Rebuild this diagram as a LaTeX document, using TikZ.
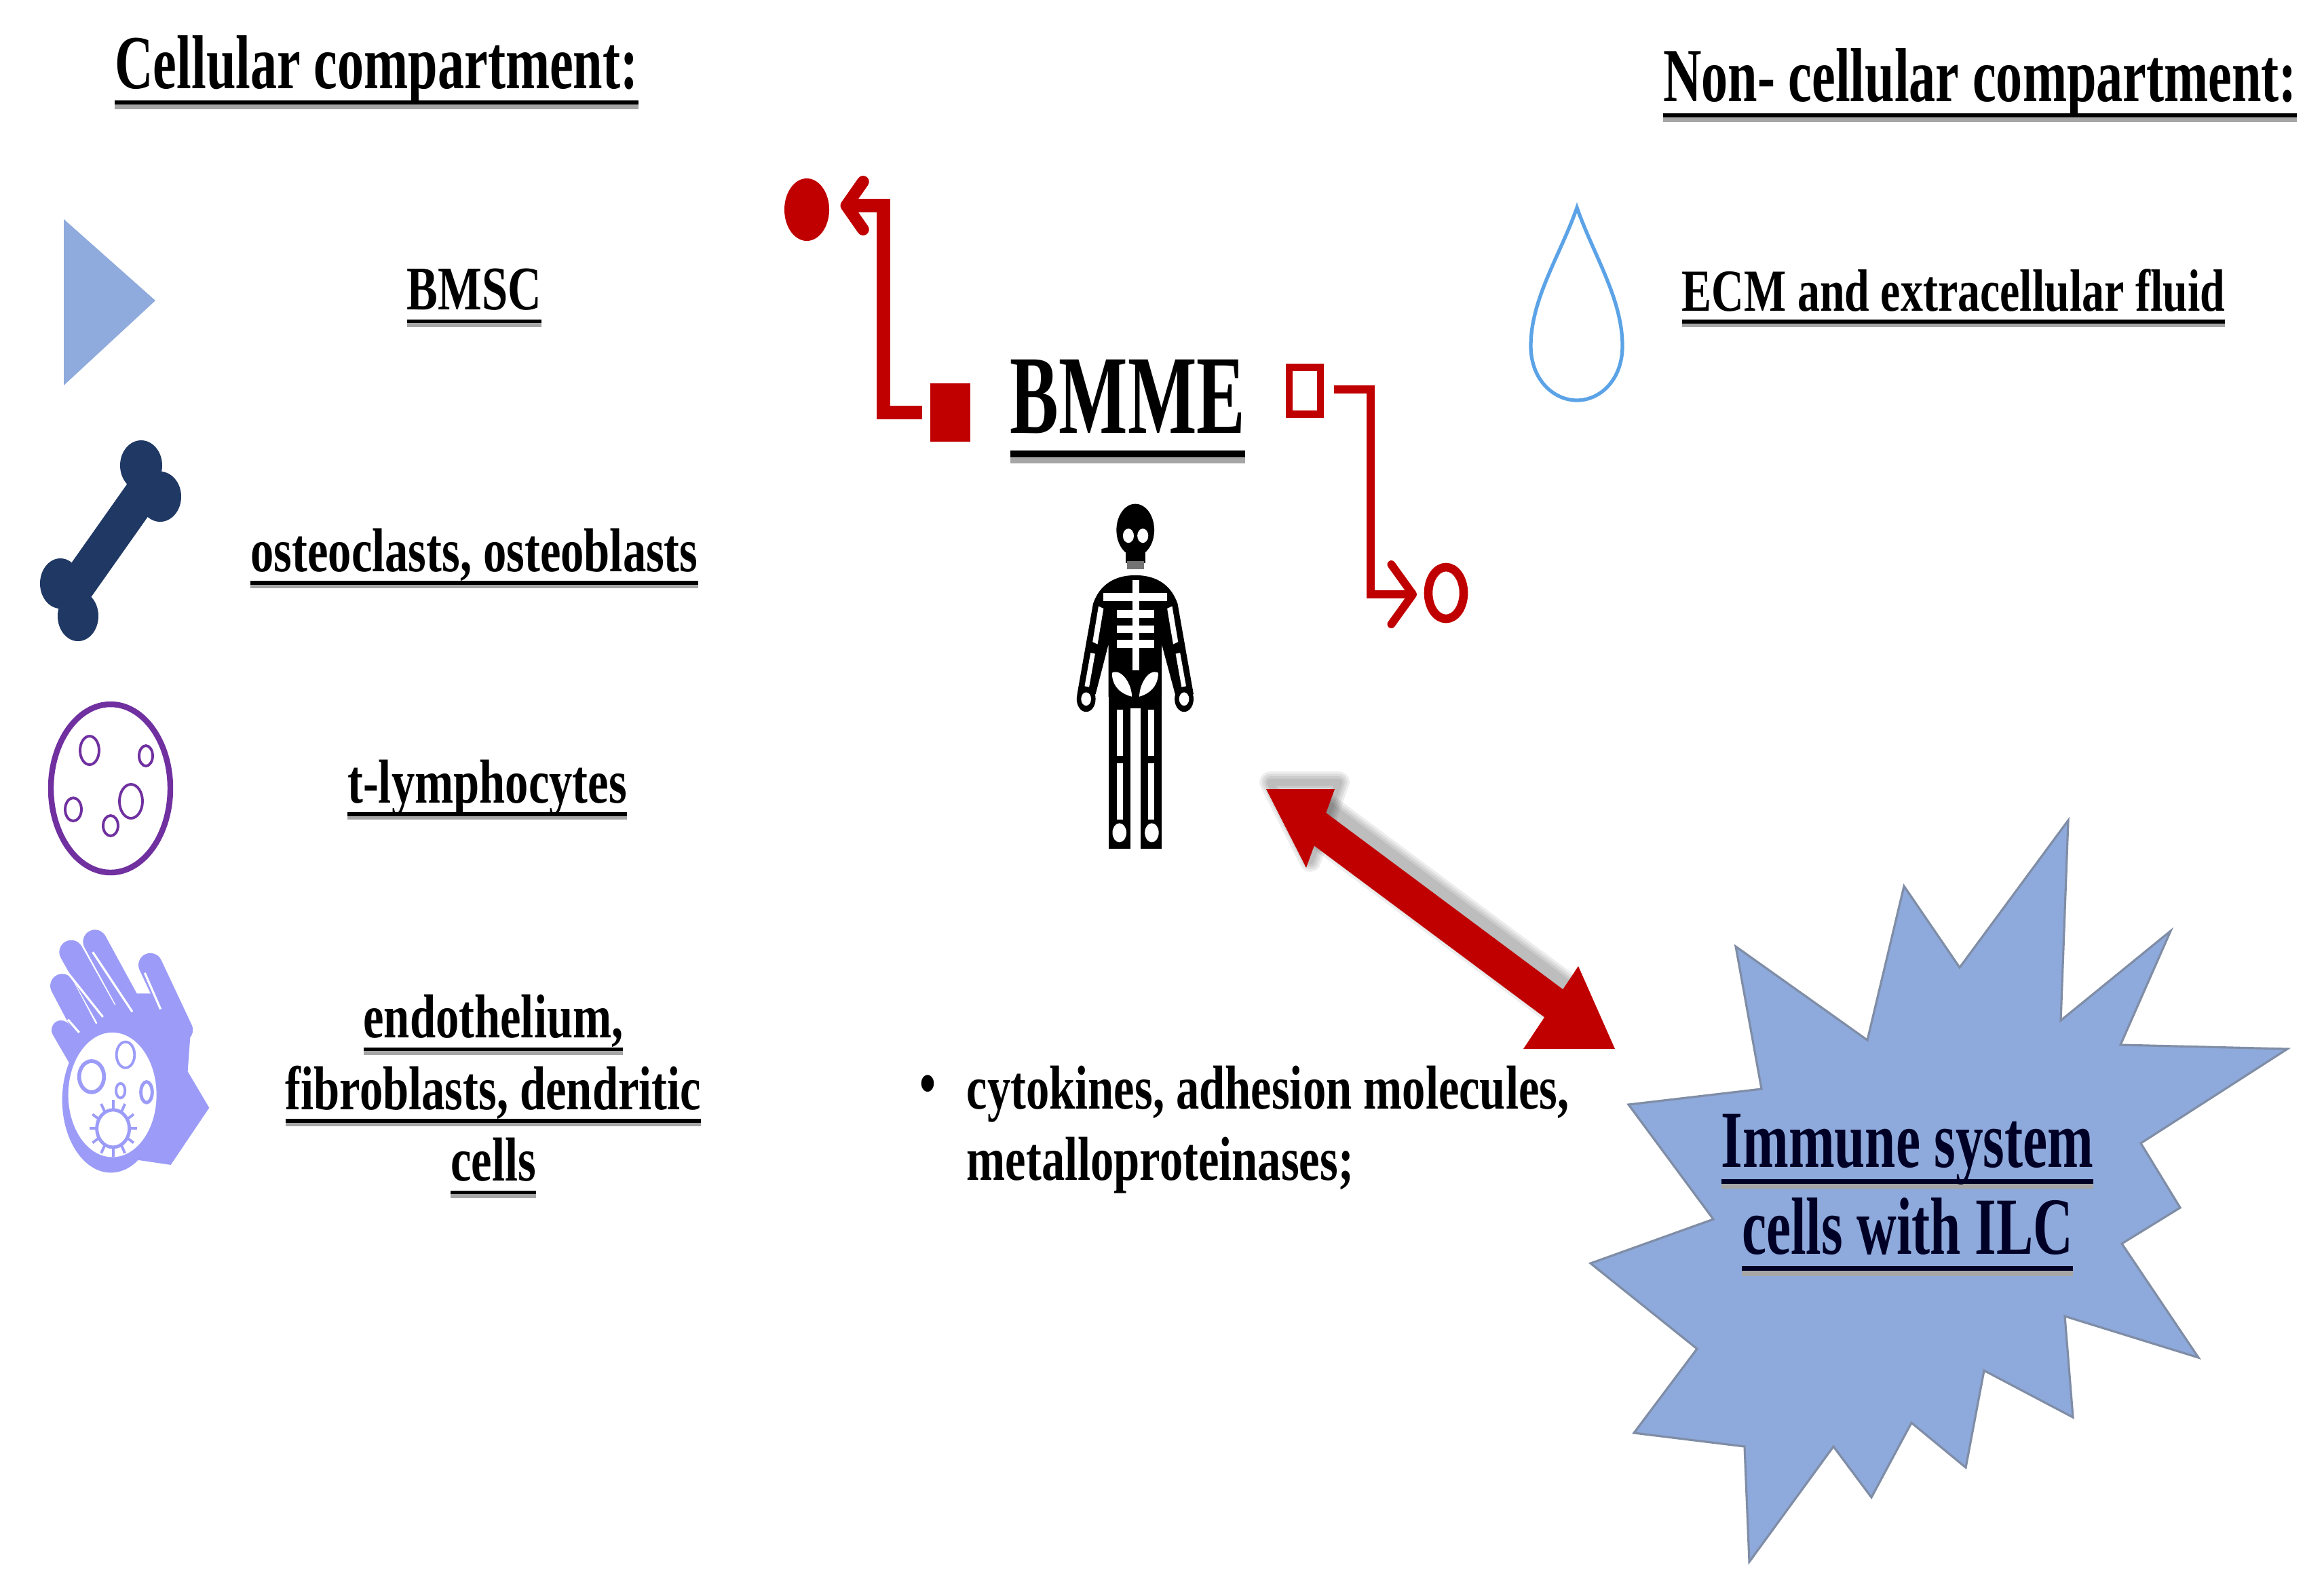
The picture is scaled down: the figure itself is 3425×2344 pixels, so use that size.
\documentclass[tikz,border=0pt]{standalone}
\usepackage{fontspec}
\setmainfont[FakeStretch=0.75]{Liberation Serif}
\newfontfamily\headfam[FakeStretch=0.695]{Liberation Serif}
\newfontfamily\bigfam[FakeStretch=0.65]{Liberation Serif}
\newfontfamily\starfam[FakeStretch=0.68]{Liberation Serif}
\usetikzlibrary{arrows.meta,shapes.geometric}
\definecolor{redC}{HTML}{C00000}
\definecolor{bluetri}{HTML}{8FAADC}
\definecolor{navybone}{HTML}{1F3864}
\definecolor{purpcell}{HTML}{7030A0}
\definecolor{handcol}{HTML}{9C9CF8}
\definecolor{dropcol}{HTML}{5BA3E6}
\definecolor{starfill}{HTML}{8EA9DB}
\definecolor{staredge}{HTML}{7F8DA6}
\newcommand\ulrule[1]{\setbox0\hbox{#1}\rlap{\textcolor{black!35}{\rule[-.27em]{\wd0}{.06em}}}\rlap{\rule[-.21em]{\wd0}{.06em}}\box0}
\tikzset{
  headtext/.style={font=\headfam\fontsize{32}{36}\selectfont\bfseries,inner sep=0pt,align=center},
  bodytext/.style={font=\fontsize{26}{30}\selectfont\bfseries,inner sep=0pt,align=center},
  plainbody/.style={font=\fontsize{26}{30}\selectfont\bfseries,inner sep=0pt,align=left,anchor=west},
  bigtext/.style={font=\bigfam\fontsize{47}{50}\selectfont\bfseries,inner sep=0pt},
  startext/.style={font=\starfam\fontsize{34}{36}\selectfont\bfseries,inner sep=0pt,align=center,text=black!85!blue},
  redfill/.style={fill=redC,draw=none,inner sep=0pt},
  redhollow/.style={draw=redC,fill=white,inner sep=0pt},
  thickred/.style={draw=redC,line width=5.5pt,line join=miter},
  thinred/.style={draw=redC,line width=3.4pt,line join=miter},
  handline/.style={line width=10pt,line cap=round,draw=handcol},
  slit/.style={line width=0.9pt,draw=white},
  handring/.style={line width=1.1pt,draw=handcol},
  cellring/.style={draw=purpcell,line width=1.1pt},
}
\begin{document}
\begin{tikzpicture}[x=0.01cm,y=-0.01cm]
\useasboundingbox (0,0) rectangle (3425,2344);
\fill[white] (0,0) rectangle (3425,2344);

% headings
\node[headtext] (hcell) at (555,107) {\ulrule{Cellular compartment:}};
\node[headtext] (hnon) at (2918,126) {\ulrule{Non- cellular compartment:}};

% left column icons
\fill[bluetri] (94,323) -- (229,443) -- (94,568) -- cycle;

% bone
\draw[navybone,line width=15pt] (222,710) -- (102,880);
\fill[navybone] (208,686) ellipse [x radius=31,y radius=37];
\fill[navybone] (236,732) ellipse [x radius=31,y radius=37];
\fill[navybone] (89,860) ellipse [x radius=30,y radius=37];
\fill[navybone] (115,908) ellipse [x radius=30,y radius=37];

% lymphocyte
\draw[purpcell,line width=2.4pt] (163,1162) ellipse [x radius=88,y radius=124];
\draw[cellring] (132,1106) ellipse [x radius=14,y radius=21];
\draw[cellring] (215,1114) ellipse [x radius=10,y radius=15];
\draw[cellring] (193,1181) ellipse [x radius=17,y radius=25];
\draw[cellring] (163,1217) ellipse [x radius=11,y radius=15];
\draw[cellring] (108,1193) ellipse [x radius=12,y radius=17];

% hand holding a dish
\begin{scope}[shift={(0,600)},xscale=0.3333,yscale=0.765]
\fill[handcol] (400,1200) -- (560,1130) -- (700,1130) -- (845,1190) -- (830,1280) -- (925,1350) -- (755,1460) -- (600,1450) -- (400,1300) -- cycle;
\draw[handline] (420,1030) -- (620,1190);
\draw[handline] (315,1050) -- (560,1240);
\draw[handline] (275,1115) -- (450,1260);
\draw[handline,line width=8pt] (270,1200) -- (350,1260);
\draw[handline] (665,1075) -- (800,1200);
\draw[slit] (410,1050) -- (585,1165);
\draw[slit] (300,1090) -- (455,1175);
\draw[slit] (300,1180) -- (350,1205);
\draw[slit] (640,1090) -- (710,1160);
\fill[handcol] (490,1335) ellipse [x radius=215,y radius=140];
\fill[white] (497,1325) ellipse [x radius=195,y radius=120];
\draw[handring] (555,1248) ellipse [x radius=40,y radius=25];
\draw[handring,line width=1.6pt] (405,1290) ellipse [x radius=55,y radius=30];
\draw[handring] (533,1317) ellipse [x radius=20,y radius=14];
\draw[handring,line width=1.4pt] (648,1320) ellipse [x radius=25,y radius=20];
\draw[handring,line width=1.4pt] (500,1390) ellipse [x radius=72,y radius=36];
\foreach \a in {0,30,...,330}
  \draw[handring] ({500+72*cos(\a)},{1390+36*sin(\a)}) -- ({500+105*cos(\a)},{1390+55*sin(\a)});
\end{scope}

% left column texts
\node[bodytext] (tbmsc) at (699,439) {\ulrule{BMSC}};
\node[bodytext] (tost) at (699,823) {\ulrule{osteoclasts, osteoblasts}};
\node[bodytext] (tlym) at (718,1164) {\ulrule{t-lymphocytes}};
\node[bodytext] (tend) at (727,1616) {\ulrule{endothelium,}\\\ulrule{fibroblasts, dendritic}\\\ulrule{cells}};

% BMME and red connectors
\node[bigtext] (bmme) at (1662,607) {\ulrule{BMME}};
\node[redfill,ellipse,minimum width=0.66cm,minimum height=0.92cm] (cA) at (1189,309) {};
\node[redfill,rectangle,minimum width=0.59cm,minimum height=0.85cm] (sqA) at (1400,608) {};
\node[redhollow,rectangle,line width=3.1pt,minimum width=0.46cm,minimum height=0.69cm] (sqB) at (1923,576) {};
\node[redhollow,ellipse,line width=3.6pt,minimum width=0.52cm,minimum height=0.76cm] (cB) at (2131,874) {};
\coordinate (bendA) at (1302,303);
\coordinate (bendB) at (2020,876);
\draw[thickred,shorten <=3pt,shorten >=4.5pt,-{Straight Barb[length=7pt,width=20pt,line width=5pt,round]}]
  (sqA.west) -| (bendA) -- (cA.east |- bendA);
\draw[thinred,shorten <=4pt,shorten >=3pt,-{Straight Barb[length=9pt,width=25pt,line width=3.4pt,round]}]
  (sqB.east |- 0,574) -| (bendB) -- (cB.west |- bendB);

% skeleton
\begin{scope}[shift={(1100,220)},xscale=0.733,yscale=0.7015]
\fill[black] (782,800) ellipse [x radius=38,y radius=55];
\fill[black] (762,840) rectangle (802,870);
\fill[black!55] (765,865) rectangle (800,882);
\fill[white] (768,812) ellipse [x radius=11,y radius=15];
\fill[white] (797,812) ellipse [x radius=11,y radius=15];
\fill[black] (782,895) .. controls (740,895) and (710,915) .. (697,955) -- (665,1145) -- (702,1145) -- (728,1040) -- (728,1150)
  -- (835,1150) -- (835,1040) -- (862,1145) -- (899,1145) -- (867,955) .. controls (854,915) and (824,895) .. (782,895) -- cycle;
\fill[black] (683,1155) ellipse [x radius=19,y radius=27];
\fill[black] (880,1155) ellipse [x radius=19,y radius=27];
\fill[white] (683,1155) ellipse [x radius=10,y radius=14];
\fill[white] (880,1155) ellipse [x radius=10,y radius=14];
\fill[white] (708,960) -- (718,965) -- (706,1040) -- (696,1035) -- cycle;
\fill[white] (856,960) -- (846,965) -- (858,1040) -- (868,1035) -- cycle;
\fill[white] (692,1058) -- (701,1060) -- (689,1130) -- (680,1128) -- cycle;
\fill[white] (872,1058) -- (863,1060) -- (875,1130) -- (884,1128) -- cycle;
\fill[white] (776,905) rectangle (790,1095);
\fill[white] (718,932) rectangle (846,950);
\fill[white] (745,968) rectangle (820,985);
\fill[white] (745,1000) rectangle (820,1017);
\fill[white] (745,1030) rectangle (820,1047);
\fill[white] (735,1100) .. controls (755,1090) and (775,1125) .. (775,1150) .. controls (755,1145) and (735,1130) .. (735,1100) -- cycle;
\fill[white] (828,1100) .. controls (808,1090) and (790,1125) .. (790,1150) .. controls (808,1145) and (828,1130) .. (828,1100) -- cycle;
\fill[black] (728,1150) rectangle (772,1470);
\fill[black] (792,1150) rectangle (835,1470);
\fill[black] (772,1150) rectangle (792,1175);
\fill[white] (745,1178) rectangle (757,1275);
\fill[white] (745,1290) rectangle (757,1408);
\fill[white] (808,1178) rectangle (820,1275);
\fill[white] (808,1290) rectangle (820,1408);
\fill[white] (750,1436) ellipse [x radius=14,y radius=20];
\fill[white] (815,1436) ellipse [x radius=14,y radius=20];
\end{scope}

% non-cellular column
\draw[dropcol,line width=1.5pt] (2324,306) .. controls (2300,375) and (2256,440) .. (2256,510) .. controls (2256,560) and (2290,590) .. (2324,590) .. controls (2358,590) and (2391,560) .. (2391,510) .. controls (2391,440) and (2348,375) .. (2324,306) -- cycle;
\node[bodytext,font=\fontsize{25}{30}\selectfont\bfseries] (tecm) at (2879,439) {\ulrule{ECM and extracellular fluid}};

% star
\draw[fill=starfill,draw=staredge,line width=0.9pt,line join=miter]
 (3048,1209) -- (3037,1504) -- (3199,1372) -- (3125,1540) -- (3371,1546) -- (3155,1685) -- (3213,1780) -- (3127,1833) -- (3240,2001) -- (3043,1940) -- (3055,2089) -- (2924,2020) -- (2897,2163) -- (2817,2097) -- (2758,2207) -- (2702,2132) -- (2578,2302) -- (2571,2132) -- (2408,2112) -- (2501,1988) -- (2344,1862) -- (2525,1797) -- (2400,1628) -- (2596,1605) -- (2558,1395) -- (2752,1533) -- (2806,1306) -- (2888,1426) -- cycle;
\node[startext] (timm) at (2811,1697) {\ulrule{Immune system}};
\node[startext] (tilc) at (2811,1823) {\ulrule{cells with ILC}};

% bullet text
\node[plainbody] (tbull) at (1355,1606) {\textbullet};
\node[plainbody] (tcyt) at (1424,1665) {cytokines, adhesion molecules,\\metalloproteinases;};
% double arrow
\coordinate (tipA) at (1866,1163);
\coordinate (tipB) at (2380,1546);
\begin{scope}[shift={(6,-10)}]
\foreach \w in {9,7,5,3}{
\draw[black,opacity=0.07,line width=\w pt,line join=round]
  (1866,1163) -- (1967,1163) -- (1925,1279) -- cycle;
\draw[black,opacity=0.07,line width=14pt+\w pt] (1930,1211) -- (2310,1494);
}
\end{scope}
\fill[redC] (tipA) -- (1967,1163) -- (1925,1279) -- cycle;
\fill[redC] (tipB) -- (2326,1424) -- (2245,1546) -- cycle;
\draw[redC,line width=14pt,shorten <=25pt,shorten >=28pt] (tipA) -- (tipB);
\end{tikzpicture}
\end{document}
